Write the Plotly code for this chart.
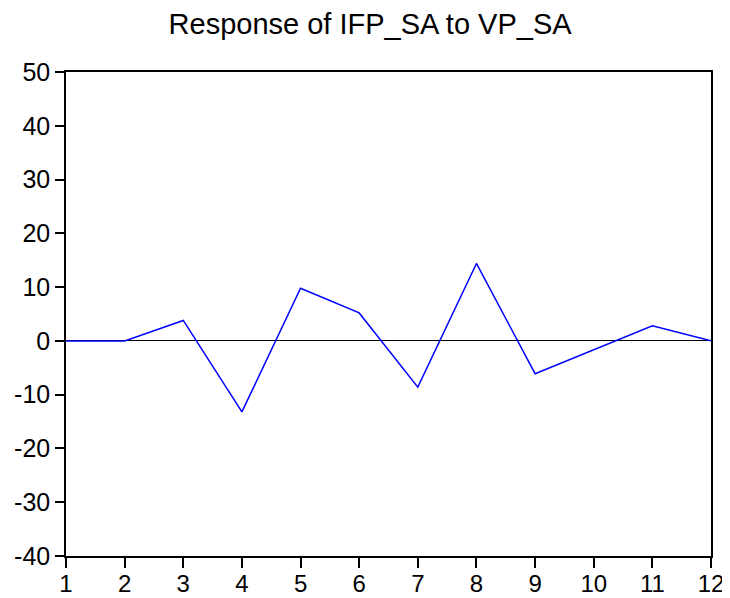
import plotly.graph_objects as go

periods = list(range(1, 13))
response = [0.0, 0.0, 3.8, -13.2, 9.8, 5.2, -8.6, 14.4, -6.1, -1.7, 2.8, 0.0]
y_ticks = [-40, -30, -20, -10, 0, 10, 20, 30, 40, 50]
y_labels = ["-40", "-30", "-20", "-10", "0", "10", "20", "30", "40", "50"]
x_ticks = periods
x_labels = [str(p) for p in periods]

fig = go.Figure()
fig.add_trace(go.Scatter(x=periods, y=response, mode="lines",
                         line=dict(color="#0000ff", width=1.5), showlegend=False))

# page body has an 8px default margin; margins compensate for that offset
fig.update_layout(
    width=730, height=598,
    paper_bgcolor="white", plot_bgcolor="white",
    margin=dict(l=58, r=27, t=64, b=50, autoexpand=False),
    font=dict(family="Liberation Sans, Arial, sans-serif", color="black"),
    title=dict(text="Response of IFP_SA to VP_SA", x=0.496, xanchor="center",
               xref="container", yref="container", y=0.973, yanchor="middle",
               font=dict(size=29)),
)
fig.update_xaxes(range=[1, 12], tickvals=x_ticks, ticktext=x_labels,
                 ticks="outside", ticklen=10, automargin=False,
                 ticklabelstandoff=-5,
                 tickcolor="black", tickwidth=1.5, showgrid=False, zeroline=False,
                 showline=True, linecolor="black", linewidth=1.5, mirror=True,
                 tickfont=dict(size=24))
fig.update_yaxes(range=[-40, 50], tickvals=y_ticks, ticktext=y_labels,
                 ticks="outside", ticklen=9, automargin=False,
                 tickcolor="black", tickwidth=1.5, showgrid=False,
                 zeroline=True, zerolinecolor="black", zerolinewidth=1.2,
                 showline=True, linecolor="black", linewidth=1.5, mirror=True,
                 tickfont=dict(size=25))
fig.write_html("out.html")
